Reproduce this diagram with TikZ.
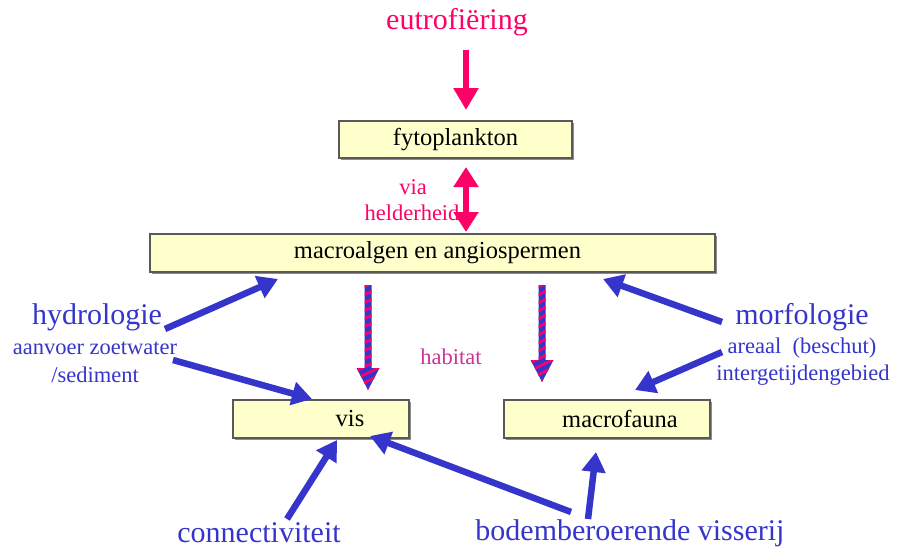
\documentclass[tikz,border=0pt]{standalone}
\usepackage{fontspec}
\setmainfont{Liberation Serif}
\usetikzlibrary{arrows.meta}
\definecolor{pinkc}{HTML}{FF0066}
\definecolor{bluec}{HTML}{3535CC}
\definecolor{habc}{HTML}{CC3399}
\definecolor{boxfill}{HTML}{FFFFCC}
\newcommand\habarrow[3]{%
  \begin{scope}
    \clip (#1-3.5,#2) -- (#1+3.5,#2) -- (#1+3.5,#3-22) -- (#1+11.5,#3-22) -- (#1,#3)
          -- (#1-11.5,#3-22) -- (#1-3.5,#3-22) -- cycle;
    \fill[bluec] (#1-12,#2) rectangle (#1+12,#3);
    \foreach \k in {-2,...,16}
      \draw[pinkc, line width=2.6pt] (#1-12,#2+\k*8+6) -- (#1+12,#2+\k*8-6);
  \end{scope}}
\begin{document}
\begin{tikzpicture}[x=1pt,y=-1pt,
  box/.style={draw=black!65, line width=1.2pt, fill=boxfill, inner sep=0pt,
    font=\fontsize{24.5}{27}\selectfont,
    preaction={fill=black!45, transform canvas={xshift=1.5pt,yshift=-1.5pt}}},
  big/.style={font=\fontsize{30}{33}\selectfont},
  small/.style={font=\fontsize{22.5}{25}\selectfont, align=center},
  bluearr/.style={draw=bluec, line width=6.5pt, -{Triangle[width=23pt,length=20pt]}},
  pinkarr/.style={draw=pinkc, line width=6.5pt, -{Triangle[width=24pt,length=22pt]}},
  pinkdbl/.style={draw=pinkc, line width=6.5pt, {Triangle[width=24pt,length=20pt]}-{Triangle[width=24pt,length=20pt]}}]
\useasboundingbox (0,0) rectangle (897,551);

% boxes
\node[box, minimum width=233pt, minimum height=37pt] (fyto) at (455.5,139.5) {fytoplankton};
\node[box, minimum width=565pt, minimum height=38pt] (macro) at (432.5,253) {\hspace*{10pt}macroalgen en angiospermen};
\node[box, minimum width=176pt, minimum height=38pt] (vis) at (321,419) {\hspace*{58pt}vis};
\node[box, minimum width=206pt, minimum height=38pt] (fauna) at (607,419) {\hspace*{26pt}macrofauna};

% labels
\node[big, text=pinkc] (eut) at (457,22) {eutrofiëring};
\node[small, text=pinkc] (via) at (413,187) {via};
\node[small, text=pinkc] (held) at (412,213) {helderheid};
\node[small, text=habc] (hab) at (451,357) {habitat};
\node[big, text=bluec] (hydro) at (97,317) {hydrologie};
\node[small, text=bluec] (hydro1) at (95,348) {aanvoer zoetwater};
\node[small, text=bluec] (hydro2) at (95,375) {/sediment};
\node[big, text=bluec] (morf) at (802,317) {morfologie};
\node[small, text=bluec] (morf1) at (802,348) {areaal\ \ (beschut)};
\node[small, text=bluec] (morf2) at (803,375) {intergetijdengebied};
\node[big, text=bluec] (conn) at (259,533) {connectiviteit};
\node[big, text=bluec] (bodem) at (630,533) {bodemberoerende visserij};

% pink arrows
\coordinate (e1) at (466,50);
\coordinate (e2) at (466,110);
\draw[pinkarr] (e1) -- (e2);
\coordinate (d1) at (466,167);
\coordinate (d2) at (466,232);
\draw[pinkdbl] (d1) -- (d2);

% striped habitat arrows
\habarrow{368}{285}{390}
\habarrow{542}{285}{382}

% blue arrows
\coordinate (h1a) at (165,329); \coordinate (h1b) at (278,279);
\draw[bluearr] (h1a) -- (h1b);
\coordinate (h2a) at (173,360); \coordinate (h2b) at (312,399);
\draw[bluearr] (h2a) -- (h2b);
\coordinate (m1a) at (722,322); \coordinate (m1b) at (603,279);
\draw[bluearr] (m1a) -- (m1b);
\coordinate (m2a) at (722,352); \coordinate (m2b) at (635,390);
\draw[bluearr] (m2a) -- (m2b);
\coordinate (c1a) at (287,519); \coordinate (c1b) at (337,440);
\draw[bluearr] (c1a) -- (c1b);
\coordinate (b1a) at (571,512); \coordinate (b1b) at (370,436);
\draw[bluearr] (b1a) -- (b1b);
\coordinate (b2a) at (588,519); \coordinate (b2b) at (596,452);
\draw[bluearr] (b2a) -- (b2b);
\end{tikzpicture}
\end{document}
